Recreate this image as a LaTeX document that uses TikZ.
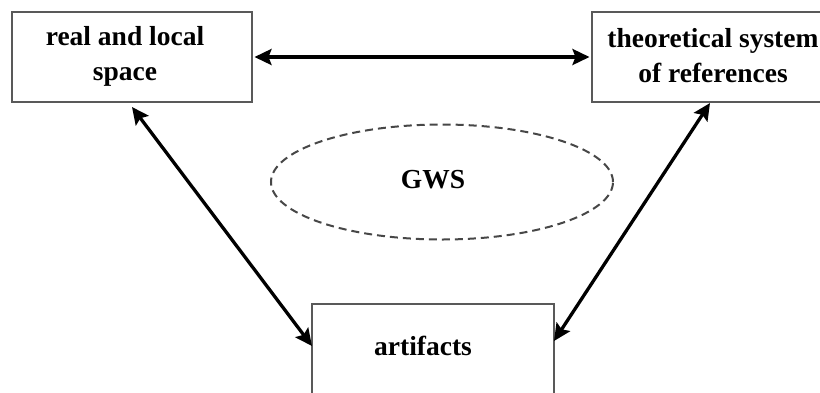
\documentclass[tikz,border=0pt]{standalone}
\usepackage{fontspec}
\setmainfont{Liberation Serif}
\usetikzlibrary{arrows.meta,shapes.geometric}
\begin{document}
\begin{tikzpicture}[x=1pt,y=-1pt,
  box/.style={draw=black!65,line width=2pt,fill=white,inner sep=0pt},
  lbl/.style={font=\fontsize{27.5}{35}\selectfont\bfseries,align=center,inner sep=0pt},
  link/.style={line width=3.3pt,{Stealth[length=17pt,width=16pt,inset=3pt]}-{Stealth[length=17pt,width=16pt,inset=3pt]}},
  gws/.style={ellipse,draw=black!72,line width=2pt,dash pattern=on 8pt off 5pt,inner sep=0pt}
]
\useasboundingbox (0,0) rectangle (820,392);
\clip (0,0) rectangle (820,392);
\fill[white] (0,0) rectangle (820,392);
% boxes
\node[box,minimum width=240pt,minimum height=90pt] (real) at (132,57) {};
\node[box,minimum width=250pt,minimum height=90pt] (theo) at (717,57) {};
\node[box,minimum width=242pt,minimum height=112pt] (art) at (433,360) {};
% texts
\node[lbl] (realt) at (125,56) {real and local\\space};
\node[lbl] (theot) at (713,56) {theoretical system\\of references};
\node[lbl] (artt) at (423,346) {artifacts};
% ellipse
\node[gws,minimum width=342pt,minimum height=115pt] (gwse) at (442,182) {};
\node[lbl] (gwst) at (433,180) {GWS};
% connector end points
\coordinate (realS) at (132,107);
\coordinate (theoS) at (710,103);
\coordinate (artW) at (312,346);
\coordinate (artE) at (554,341);
% connectors
\draw[link,shorten <=1.5pt,shorten >=1.5pt] (real.east) -- (theo.west);
\draw[link] (realS) -- (artW);
\draw[link] (theoS) -- (artE);
\end{tikzpicture}
\end{document}
